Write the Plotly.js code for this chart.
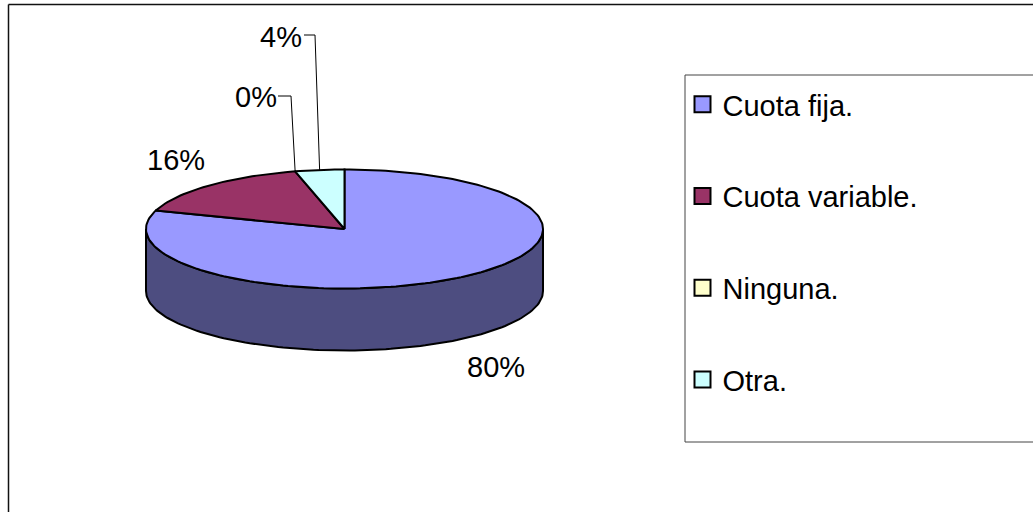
<!DOCTYPE html>
<html><head><meta charset="utf-8">
<script src="https://cdn.plot.ly/plotly-3.0.1.min.js"></script>
<style>html,body{margin:0;padding:0;background:#fff}#c{width:1033px;height:512px}</style>
</head><body><div id="c"></div>
<script>
const categories = ['Cuota fija.', 'Cuota variable.', 'Ninguna.', 'Otra.'];
const values = [80, 16, 0, 4];
const topColors = ['#9999ff', '#993366', '#ffffcc', '#ccffff'];
const sideColors = ['#4d4d80', '#4d1a33', '#808066', '#668080'];

// pie geometry (pixel-like axis units)
const cx = 344.5, cy = 229, rx = 198.5, ry = 59.5, depth = 62;
const FONT = 'Liberation Sans, Arial, sans-serif';
const LABEL_SIZE = 29;

const total = values.reduce((a, b) => a + b, 0);
const pt = (f, dy = 0) => {
  const a = f * 2 * Math.PI;
  return [cx + rx * Math.sin(a), cy - ry * Math.cos(a) + dy];
};
const arc = (f0, f1, dy = 0) => {
  const n = Math.max(2, Math.ceil((f1 - f0) * 240));
  const out = [];
  for (let i = 0; i <= n; i++) out.push(pt(f0 + (f1 - f0) * i / n, dy));
  return out;
};

const traces = [];
let cum = 0;
const spans = values.map(v => { const s = [cum / total, (cum + v) / total]; cum += v; return s; });

// side walls: the front half of the rim (quarter to three-quarter turn)
spans.forEach((s, i) => {
  const f0 = Math.max(s[0], 0.25), f1 = Math.min(s[1], 0.75);
  if (f1 <= f0) return;
  const p = arc(f0, f1).concat(arc(f0, f1, depth).reverse());
  p.push(p[0]);
  traces.push({ x: p.map(q => q[0]), y: p.map(q => q[1]), mode: 'lines', fill: 'toself',
    fillcolor: sideColors[i], line: { color: '#000', width: 2 }, showlegend: false, hoverinfo: 'skip' });
});
// top faces
spans.forEach((s, i) => {
  if (s[1] <= s[0]) return;
  const p = [[cx, cy]].concat(arc(s[0], s[1]));
  p.push([cx, cy]);
  traces.push({ x: p.map(q => q[0]), y: p.map(q => q[1]), mode: 'lines', fill: 'toself',
    fillcolor: topColors[i], line: { color: '#000', width: 2 }, showlegend: false, hoverinfo: 'skip' });
});

// label placement: text centre and optional leader elbow, per slice
const labelPos = [
  { x: 495.5, y: 367 },
  { x: 175.5, y: 160 },
  { x: 256, y: 97, elbow: [[278, 96], [291, 96]] },
  { x: 280.5, y: 37, elbow: [[304, 35], [315, 35]] }
];
const annotations = values.map((v, i) => ({
  x: labelPos[i].x, y: labelPos[i].y, xref: 'x', yref: 'y', showarrow: false,
  text: Math.round(v / total * 100) + '%', xanchor: 'center', yanchor: 'middle',
  font: { family: FONT, size: LABEL_SIZE, color: '#000' }
}));
labelPos.forEach((l, i) => {
  if (!l.elbow) return;
  const end = pt((spans[i][0] + spans[i][1]) / 2);
  const p = l.elbow.concat([end]);
  traces.push({ x: p.map(q => q[0]), y: p.map(q => q[1]), mode: 'lines',
    line: { color: '#000', width: 1 }, showlegend: false, hoverinfo: 'skip' });
});

// legend entries
categories.forEach((c, i) => {
  traces.push({ x: [null], y: [null], name: c, mode: 'markers', legendgroup: 'g' + i,
    marker: { symbol: 'square', size: 17, color: topColors[i], line: { color: '#000', width: 2 } } });
});

const layout = {
  width: 1033, height: 512,
  margin: { l: 0, r: 0, t: 0, b: 0 },
  paper_bgcolor: '#fff', plot_bgcolor: '#fff',
  xaxis: { range: [0, 1033], visible: false, fixedrange: true },
  yaxis: { range: [512, 0], visible: false, fixedrange: true },
  showlegend: true,
  legend: {
    x: 682.5 / 1033, y: 1 - 79 / 512, xanchor: 'left', yanchor: 'top',
    bgcolor: 'rgba(0,0,0,0)', borderwidth: 0, tracegroupgap: 51, traceorder: 'grouped',
    font: { family: FONT, size: 29, color: '#000' }
  },
  annotations,
  shapes: [
    { type: 'rect', xref: 'x', yref: 'y', x0: 685, x1: 1040, y0: 75, y1: 442, line: { color: '#444', width: 1 } },
    { type: 'line', xref: 'x', yref: 'y', x0: 8.5, x1: 1033, y0: 4.5, y1: 4.5, line: { color: '#111', width: 1.5 } },
    { type: 'line', xref: 'x', yref: 'y', x0: 8.5, x1: 8.5, y0: 4.5, y1: 512, line: { color: '#111', width: 1.5 } }
  ]
};
Plotly.newPlot('c', traces, layout, { displayModeBar: false, staticPlot: true });
</script></body></html>
